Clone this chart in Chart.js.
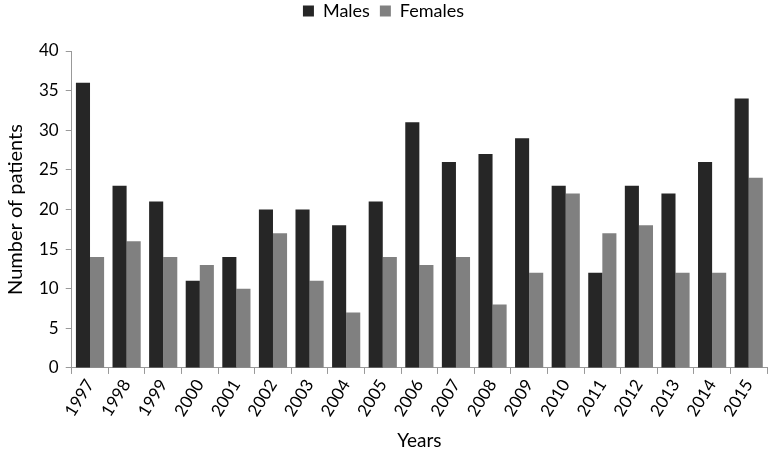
<!DOCTYPE html>
<html><head><meta charset="utf-8">
<script src="https://cdn.jsdelivr.net/npm/chart.js@4/dist/chart.umd.min.js"></script>
<style>html,body{margin:0;padding:0;background:#fff}#wrap{width:770px;height:457px}</style>
</head><body><div id="wrap"><canvas id="c" width="770" height="457"></canvas></div>
<script>
const categories = ["1997","1998","1999","2000","2001","2002","2003","2004","2005","2006","2007","2008","2009","2010","2011","2012","2013","2014","2015"];
const males = [36,23,21,11,14,20,20,18,21,31,26,27,29,23,12,23,22,26,34];
const females = [14,16,14,13,10,17,11,7,14,13,14,8,12,22,17,18,12,12,24];
const yTicks = [0,5,10,15,20,25,30,35,40];
const FONT = "Lato, 'Open Sans', sans-serif";
const legendMargin = {
  id: 'legendMargin',
  beforeInit(chart) {
    const orig = chart.legend.fit;
    chart.legend.fit = function () { orig.bind(chart.legend)(); this.height += 21; };
  }
};
new Chart(document.getElementById('c'), {
  type: 'bar',
  data: {
    labels: categories,
    datasets: [
      {label: 'Males', data: males, backgroundColor: '#262626', categoryPercentage: 0.77, barPercentage: 1},
      {label: 'Females', data: females, backgroundColor: '#808080', categoryPercentage: 0.77, barPercentage: 1}
    ]
  },
  plugins: [legendMargin],
  options: {
    responsive: false, animation: false,
    layout: {padding: {left: 0, right: 3, top: -8, bottom: 1}},
    plugins: {
      legend: {position: 'top', labels: {boxWidth: 11, boxHeight: 11, color: '#000', font: {family: FONT, size: 18}, padding: 10}},
      tooltip: {enabled: false}
    },
    scales: {
      x: {
        grid: {display: true, drawOnChartArea: false, drawTicks: true, tickLength: 6, color: '#999'},
        border: {color: '#999'},
        ticks: {color: '#000', font: {family: FONT, size: 17}, minRotation: 58, maxRotation: 58, padding: 2},
        title: {display: true, text: 'Years', color: '#000', font: {family: FONT, size: 19}, padding: {top: 7}}
      },
      y: {
        min: 0, max: 40,
        afterBuildTicks: (s) => { s.ticks = yTicks.map(v => ({value: v})); },
        grid: {display: true, drawOnChartArea: false, drawTicks: true, tickLength: 6, color: '#999'},
        border: {color: '#999'},
        ticks: {color: '#000', font: {family: FONT, size: 17}, padding: 7},
        title: {display: true, text: 'Number of patients', color: '#000', font: {family: FONT, size: 20}, padding: {bottom: 4}}
      }
    }
  }
});
</script></body></html>
